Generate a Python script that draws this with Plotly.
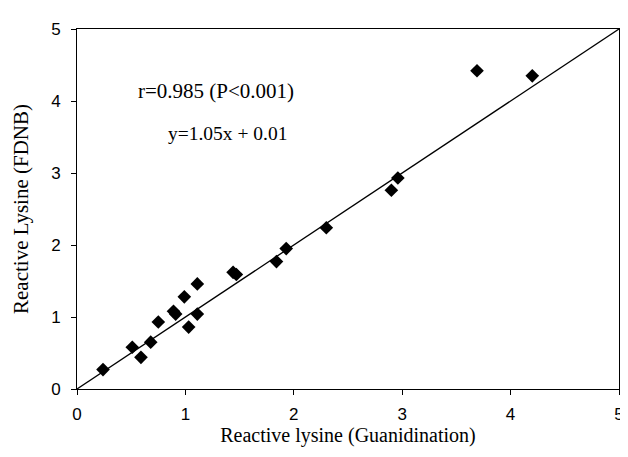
import plotly.graph_objects as go

# Data
guanidination = [0.24, 0.51, 0.59, 0.68, 0.75, 0.89, 0.91, 0.99, 1.03, 1.11, 1.11,
                 1.44, 1.47, 1.84, 1.93, 2.30, 2.90, 2.96, 3.69, 4.20]
fdnb = [0.27, 0.58, 0.44, 0.65, 0.93, 1.08, 1.04, 1.28, 0.86, 1.04, 1.46,
        1.62, 1.59, 1.77, 1.95, 2.24, 2.76, 2.93, 4.42, 4.35]
line_x = [0, 5]
line_y = [0, 5]
tick_vals = [0, 1, 2, 3, 4, 5]

fig = go.Figure()
fig.add_trace(go.Scatter(x=line_x, y=line_y, mode="lines",
                         line=dict(color="black", width=1.3), showlegend=False,
                         hoverinfo="skip"))
fig.add_trace(go.Scatter(x=guanidination, y=fdnb, mode="markers",
                         marker=dict(symbol="diamond", size=10.5, color="black",
                                     line=dict(width=0)),
                         showlegend=False))

serif = "Liberation Serif, Times New Roman, serif"
sans = "Liberation Sans, Arial, sans-serif"

axis_common = dict(range=[0, 5], tickvals=tick_vals, showgrid=False, zeroline=False,
                   showline=True, linecolor="black", linewidth=1, mirror=True,
                   ticks="outside", ticklen=5, tickcolor="black", tickwidth=1,
                   ticklabeloverflow="allow",
                   tickfont=dict(family=sans, size=17, color="black"))

fig.update_layout(
    width=628, height=457,
    margin=dict(l=68, r=14, t=14, b=76),
    paper_bgcolor="white", plot_bgcolor="white",
    xaxis=dict(**axis_common, ticklabelstandoff=5,
               title=dict(text="Reactive lysine (Guanidination)",
                          font=dict(family=serif, size=20, color="black"),
                          standoff=4)),
    yaxis=dict(**axis_common, ticklabelstandoff=7,
               title=dict(text="Reactive Lysine (FDNB)",
                          font=dict(family=serif, size=21, color="black"),
                          standoff=16)),
    annotations=[
        dict(x=0.54, y=4.14, xref="x", yref="y", text="r=0.985 (P<0.001)",
             showarrow=False, xanchor="left", yanchor="middle",
             font=dict(family=serif, size=21, color="black")),
        dict(x=0.825, y=3.55, xref="x", yref="y", text="y=1.05x + 0.01",
             showarrow=False, xanchor="left", yanchor="middle",
             font=dict(family=serif, size=19.5, color="black")),
    ],
)

fig.write_html("out.html")
